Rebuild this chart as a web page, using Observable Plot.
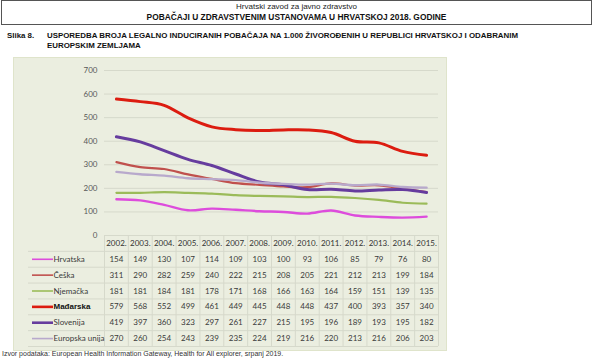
<!DOCTYPE html>
<html><head><meta charset="utf-8">
<script src="https://cdn.jsdelivr.net/npm/d3@7"></script>
<script src="https://cdn.jsdelivr.net/npm/@observablehq/plot@0.6"></script>
<style>
html,body{margin:0;padding:0;background:#fff;}
body{width:600px;height:359px;position:relative;overflow:hidden;font-family:"Liberation Sans",Arial,sans-serif;color:#111;}
#hdr{position:absolute;left:1px;top:0;width:589px;height:23px;border:1px solid #555;text-align:center;}
#hdr .l1{position:absolute;left:0;right:0;top:1px;font-size:8px;line-height:9px;color:#222;}
#hdr .l2{position:absolute;left:0;right:0;top:11px;font-size:8.4px;line-height:10px;font-weight:bold;}
#ttl{position:absolute;top:31px;left:7px;font-size:7.9px;line-height:10px;font-weight:bold;white-space:nowrap;}
#ttl .num{position:absolute;left:0;top:0;}
#ttl .txt{position:absolute;left:40px;top:0;}
#panel{position:absolute;left:13px;top:57px;width:432px;height:292px;background:#ebeee0;border:1px solid #dfe4cb;}
#chart{position:absolute;left:0;top:0;}
#table{position:absolute;left:0;top:177px;}
#src{position:absolute;left:2px;top:350px;font-size:7px;line-height:8px;color:#333;white-space:nowrap;}
</style></head>
<body>
<div id="hdr"><div class="l1">Hrvatski zavod za javno zdravstvo</div><div class="l2">POBAČAJI U ZDRAVSTVENIM USTANOVAMA U HRVATSKOJ 2018. GODINE</div></div>
<div id="ttl"><span class="num">Slika 8.</span><div class="txt">USPOREDBA BROJA LEGALNO INDUCIRANIH POBAČAJA NA 1.000 ŽIVOROĐENIH U REPUBLICI HRVATSKOJ I ODABRANIM<br>EUROPSKIM ZEMLJAMA</div></div>
<div id="panel"><div id="chart"></div><div id="table"></div></div>
<div id="src">Izvor podataka: European Health Information Gateway, Health for All explorer, srpanj 2019.</div>
<script>
const years = [2002,2003,2004,2005,2006,2007,2008,2009,2010,2011,2012,2013,2014,2015];
const seriesNames = ["Hrvatska","Češka","Njemačka","Mađarska","Slovenija","Europska unija"];
const hrvatska = [154,149,130,107,114,109,103,100,93,106,85,79,76,80];
const ceska = [311,290,282,259,240,222,215,208,205,221,212,213,199,184];
const njemacka = [181,181,184,181,178,171,168,166,163,164,159,151,139,135];
const madarska = [579,568,552,499,461,449,445,448,448,437,400,393,357,340];
const slovenija = [419,397,360,323,297,261,227,215,195,196,189,193,195,182];
const eu = [270,260,254,243,239,235,224,219,216,220,213,216,206,203];
const yTicks = [0,100,200,300,400,500,600,700];

const seriesValues = [hrvatska, ceska, njemacka, madarska, slovenija, eu];
const colors = ["#dd4cdc","#c0504d","#9bbb59","#dc1c10","#663c9e","#b8a9cc"];
const widths = [2.4,2.2,2.2,3,3,2.4];

const rows = [];
seriesNames.forEach((s,i)=>years.forEach((y,j)=>rows.push({series:s, idx:i, year:y, value:seriesValues[i][j]})));
const xDomain = [years[0]-0.5, years[years.length-1]+0.5];
const boundaries = years.map(y=>y-0.5).concat([years[years.length-1]+0.5]);

const W = 432, ML = 90, MR = 8;
const frameW = W - ML - MR;
const gridColor = "#d6d9cb";
const font = "Lato, 'Open Sans', sans-serif";

const chart = Plot.plot({
  width: W, height: 180, marginLeft: ML, marginRight: MR, marginTop: 12, marginBottom: 3,
  style: {background:"transparent", overflow:"visible", fontFamily:font, fontSize:"8px", color:"#595959"},
  x: {domain: xDomain, axis: null},
  y: {domain: [0,700], ticks: yTicks, tickSize: 0, tickPadding: 7, label: null},
  marks: [
    Plot.ruleY(yTicks, {stroke: gridColor, strokeWidth: 1}),
    ...seriesNames.map((s,i)=>Plot.line(rows.filter(r=>r.series===s), {
      x:"year", y:"value", stroke: colors[i], strokeWidth: widths[i], curve:"catmull-rom", strokeLinecap:"round"
    }))
  ]
});
document.getElementById("chart").appendChild(chart);

const table = Plot.plot({
  width: W, height: 111, marginLeft: ML, marginRight: MR, marginTop: 0, marginBottom: 0,
  style: {background:"transparent", overflow:"visible", fontFamily:font, fontSize:"8px", color:"#3a3a3a"},
  x: {domain: xDomain, axis: null},
  y: {domain: [0,7], reverse: true, axis: null},
  marks: [
    Plot.ruleY(d3.range(1,8), {stroke: gridColor, insetLeft: -76}),
    Plot.ruleX(boundaries, {y1: ()=>0, y2: ()=>7, stroke: gridColor}),
    Plot.text(years, {x: d=>d, y: ()=>0.5, text: d=>d+".", fill:"#333"}),
    Plot.text(rows, {x:"year", y: r=>r.idx+1.5, text:"value", fill:"#3a3a3a"}),
    ...seriesNames.map((s,i)=>Plot.ruleY([i+1.5], {stroke: colors[i], strokeWidth: (i===3||i===4)?2.6:1.6, insetLeft: -72, insetRight: frameW + 51})),
    ...seriesNames.map((s,i)=>Plot.text([s], {frameAnchor:"left", y: ()=>i+1.5, dx: -51, textAnchor:"start", text: d=>d,
      fill: i===3 ? "#111" : "#3a3a3a", fontWeight: i===3 ? "bold" : "normal", fontFamily: i===3 ? "'Liberation Sans', Arial, sans-serif" : font}))
  ]
});
document.getElementById("table").appendChild(table);
</script>
</body></html>
